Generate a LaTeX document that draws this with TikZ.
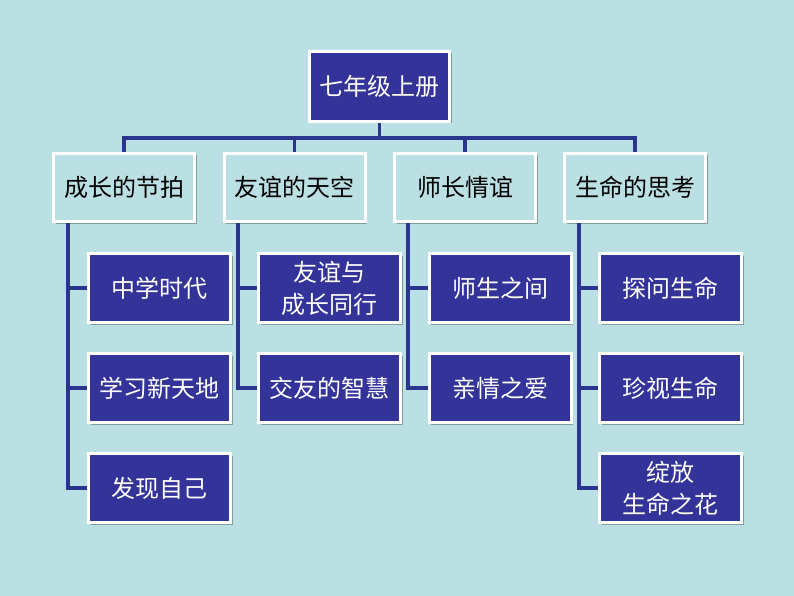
\documentclass[tikz,border=0pt]{standalone}
\usepackage{fontspec}
\newfontfamily\cjk{Noto Sans CJK SC}
\usetikzlibrary{shadows}
\definecolor{bgc}{HTML}{BBE0E3}
\definecolor{navy}{HTML}{333399}
\definecolor{linec}{HTML}{2B3590}
\tikzset{
  basebox/.style={draw=white, line width=3pt, inner sep=0pt, align=center,
    font=\cjk\fontsize{24}{32}\selectfont,
    drop shadow={shadow xshift=2pt, shadow yshift=-2pt, fill=black, opacity=0.3}},
  topbox/.style={basebox, fill=navy, text=white, minimum width=140pt, minimum height=70pt},
  midbox/.style={basebox, fill=bgc, text=black, minimum width=141pt, minimum height=68pt},
  leafbox/.style={basebox, fill=navy, text=white, minimum width=142pt, minimum height=69pt},
  conn/.style={draw=linec, line width=3.5pt}
}
\begin{document}
\begin{tikzpicture}[x=1pt,y=-1pt]
\fill[bgc] (0,0) rectangle (794,596);
\useasboundingbox (0,0) rectangle (794,596);
\coordinate (bus) at (379.5,138);
\coordinate (t1) at (68,0);
\coordinate (t2) at (238,0);
\coordinate (t3) at (408,0);
\coordinate (t4) at (579,0);
% nodes
\node[topbox] (top) at (379.5,86.5) {七年级上册};
\node[midbox] (l1) at (124,187.5) {成长的节拍};
\node[midbox] (l2) at (294.5,187.5) {友谊的天空};
\node[midbox] (l3) at (465,187.5) {师长情谊};
\node[midbox] (l4) at (635,187.5) {生命的思考};
\node[leafbox] (a1) at (159.5,288) {中学时代};
\node[leafbox] (a2) at (159.5,388) {学习新天地};
\node[leafbox] (a3) at (159.5,488) {发现自己};
\node[leafbox] (b1) at (329.5,288) {友谊与\\成长同行};
\node[leafbox] (b2) at (329.5,388) {交友的智慧};
\node[leafbox] (c1) at (500,288) {师生之间};
\node[leafbox] (c2) at (500,388) {亲情之爱};
\node[leafbox] (d1) at (670.5,288) {探问生命};
\node[leafbox] (d2) at (670.5,388) {珍视生命};
\node[leafbox] (d3) at (670.5,488) {绽放\\生命之花};
% connectors
\draw[conn] (top.south) -- (bus);
\draw[conn] (l1.north) -- (l1.north |- bus) -- (l4.north |- bus) -- (l4.north);
\draw[conn] (l2.north) -- (l2.north |- bus);
\draw[conn] (l3.north) -- (l3.north |- bus);
\draw[conn] (t1 |- l1.south) |- (a3.west);
\draw[conn] (t1 |- a1.west) -- (a1.west);
\draw[conn] (t1 |- a2.west) -- (a2.west);
\draw[conn] (t2 |- l2.south) |- (b2.west);
\draw[conn] (t2 |- b1.west) -- (b1.west);
\draw[conn] (t3 |- l3.south) |- (c2.west);
\draw[conn] (t3 |- c1.west) -- (c1.west);
\draw[conn] (t4 |- l4.south) |- (d3.west);
\draw[conn] (t4 |- d1.west) -- (d1.west);
\draw[conn] (t4 |- d2.west) -- (d2.west);
\end{tikzpicture}
\end{document}
